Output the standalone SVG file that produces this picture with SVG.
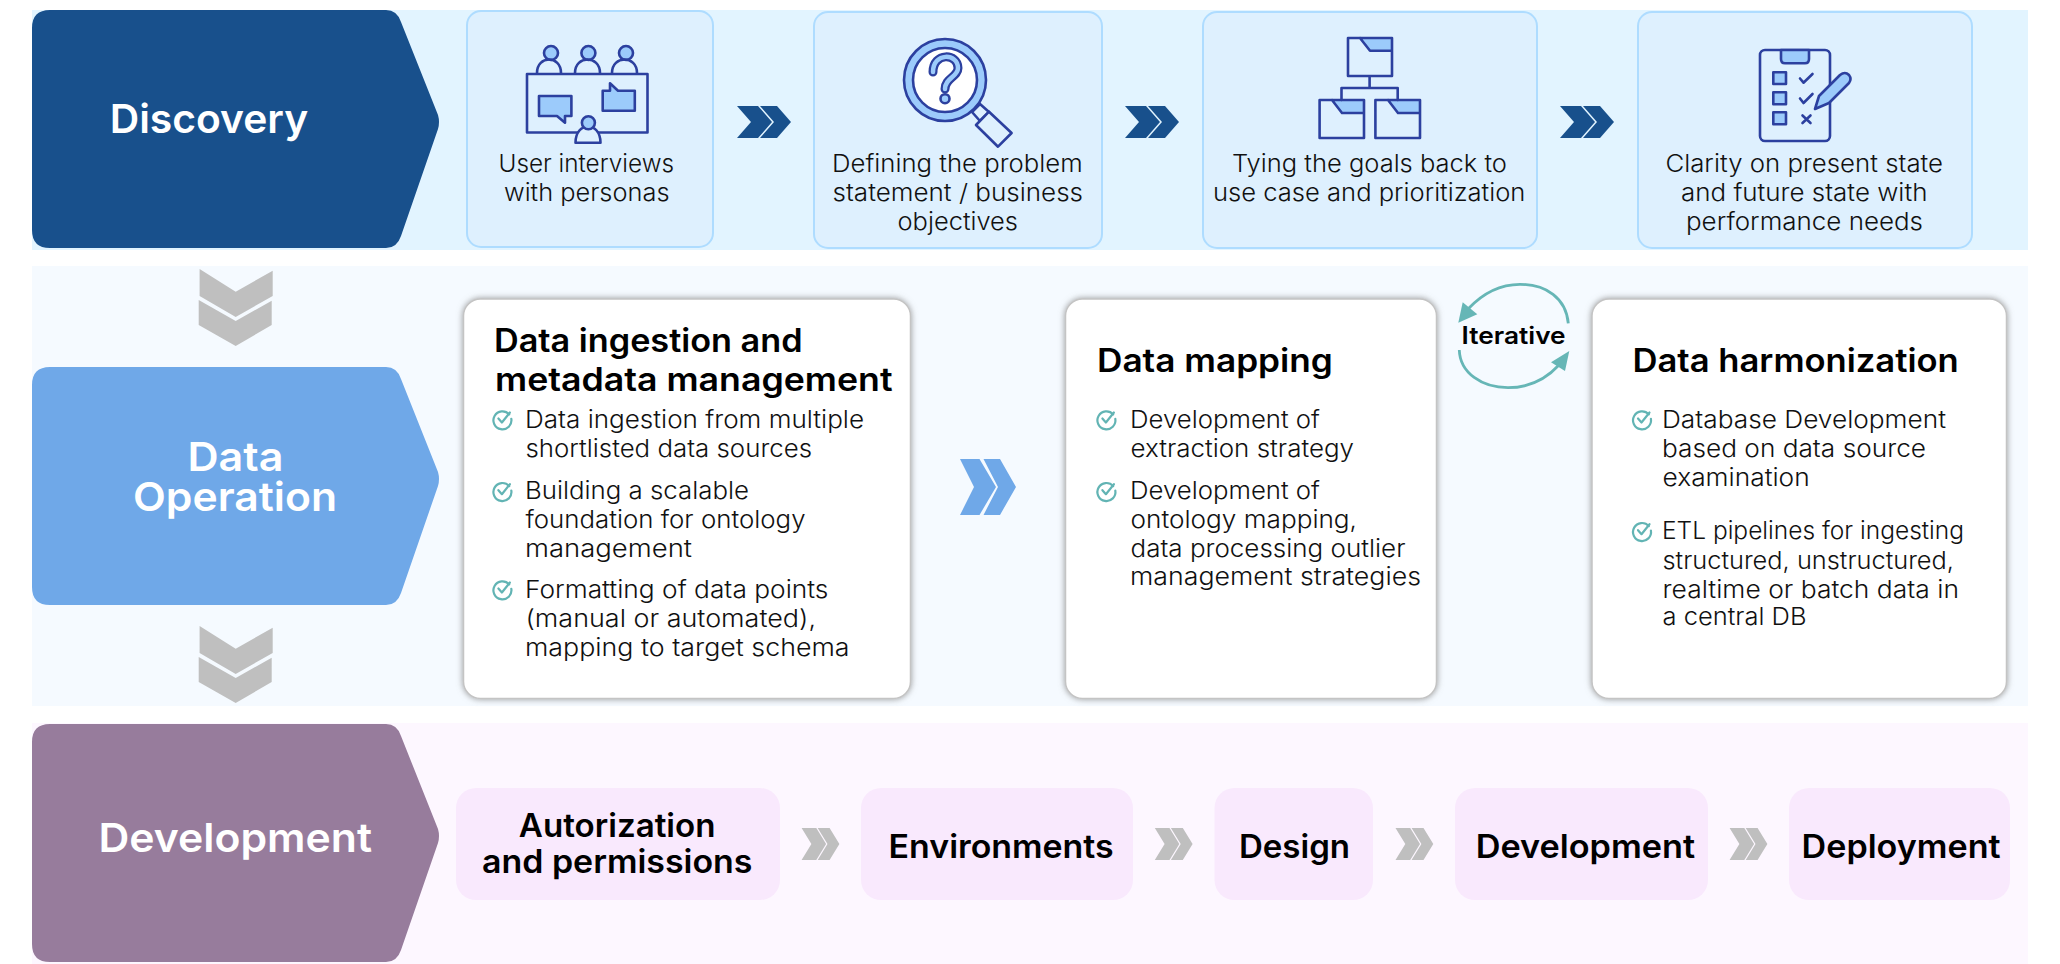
<svg xmlns="http://www.w3.org/2000/svg" xmlns:xlink="http://www.w3.org/1999/xlink" width="2060" height="964" viewBox="0 0 2060 964">
<style>
text{font-family:"Inter","Liberation Sans",sans-serif;fill:#111;}
.stage{font-size:40px;font-weight:600;fill:#fff;}
.body{font-size:24px;font-weight:300;}
.title{font-size:32px;font-weight:600;fill:#000;}
.pilltext{font-size:32px;font-weight:600;fill:#000;}
.it{font-size:24px;font-weight:600;fill:#000;}
.dcard{fill:#DEF0FE;stroke:#AEDCFF;stroke-width:2;}
.wcard{fill:#fff;stroke:#C4C4C4;stroke-width:1.5;filter:url(#sh);}
.pill{fill:#F9E9FD;}
.ic{stroke:#2C409F;stroke-width:2.6;fill:none;stroke-linejoin:round;stroke-linecap:round;}
.if{fill:#9CCBFB;}
.iw{fill:#fff;}
.chk{fill:none;stroke:#62B4B4;stroke-width:2.2;stroke-linecap:round;stroke-linejoin:round;}
.arc{fill:none;stroke:#66B6B6;stroke-width:2.8;}
.arh{fill:#66B6B6;}
</style>
<defs>
<filter id="sh" x="-5%" y="-5%" width="110%" height="110%"><feDropShadow dx="0" dy="0" stdDeviation="3" flood-color="#777" flood-opacity="0.75"/></filter>
<g id="dch"><polygon points="0,0 21,0 35,16 21,32 0,32 14,16"/><polygon points="23,0 40,0 54,16 40,32 23,32 37,16"/></g>
<g id="dn"><polygon points="0.9,0 37,22.7 74,1.7 74,27 37,48 0.9,27"/><polygon points="0,31 37,52 73,31.7 73,56 37,77 0,56"/></g>
<g id="ok"><path class="chk" d="M6.8,-5.6 A9 9 0 1 0 8.9,-1.2"/><path class="chk" d="M-4,-1.5 L-0.5,2.5 L7.5,-7.5"/></g>
</defs>

<g id="bands">
<rect x="32" y="10" width="1996" height="240" fill="#E2F4FF"/>
<rect x="32" y="266" width="1996" height="440" fill="#F5FAFF"/>
<rect x="32" y="723" width="1996" height="241" fill="#FDF7FF"/>
</g>

<g id="stage-discovery">
<path d="M50,10 H386 Q397,10 401,22 L438,115 Q440,122 438,129 L401,236 Q397,248 386,248 H50 Q32,248 32,230 V28 Q32,10 50,10 Z" fill="#18508C"/>
<text class="stage" x="109.700" y="133" textLength="198.500" lengthAdjust="spacingAndGlyphs">Discovery</text>
</g>
<g id="stage-data-operation">
<path d="M50,367 H386 Q397,367 401,379 L438,472 Q440,479 438,486 L401,593 Q397,605 386,605 H50 Q32,605 32,587 V385 Q32,367 50,367 Z" fill="#6FA8E8"/>
<text class="stage"><tspan x="187.500" y="471" textLength="96" lengthAdjust="spacingAndGlyphs">Data</tspan><tspan x="133" y="511" textLength="204" lengthAdjust="spacingAndGlyphs">Operation</tspan></text>
</g>
<g id="stage-development">
<path d="M50,724 H386 Q397,724 401,736 L438,829 Q440,836 438,843 L401,950 Q397,962 386,962 H50 Q32,962 32,944 V742 Q32,724 50,724 Z" fill="#977C9C"/>
<text class="stage" x="98.500" y="852" textLength="273.500" lengthAdjust="spacingAndGlyphs">Development</text>
</g>

<g id="card-interviews">
<rect class="dcard" x="467" y="11" width="246" height="236" rx="14"/>
<g>
<circle class="ic if" cx="551" cy="53" r="7"/><circle class="ic if" cx="588.4" cy="53" r="7"/><circle class="ic if" cx="626" cy="53" r="7"/>
<path class="ic" d="M537,73 C537,55 561,55 561,73 M575,73 C575,55 600,55 600,73 M612,73 C612,55 637,55 637,73"/>
<rect class="ic" x="527" y="74" width="120.500" height="58.500"/>
<path class="ic if" d="M539,96 H571.400 V116 H565 V122.700 L557,116 H539 Z"/>
<path class="ic if" d="M602.700,90.700 H610 V83.300 L618,90.700 H634.800 V110.700 H602.700 Z"/>
<path class="ic iw" style="fill:#DEF0FE" d="M575.500,142.700 C575.500,121 600.500,121 600.500,142.700 Z"/>
<circle class="ic if" cx="588.400" cy="122.700" r="6.500"/>
</g>
<text class="body" x="498.500" y="172" textLength="175.500" lengthAdjust="spacingAndGlyphs">User interviews</text>
<text class="body" x="504" y="200.700" textLength="165.500" lengthAdjust="spacingAndGlyphs">with personas</text>
</g>

<g id="card-problem">
<rect class="dcard" x="814" y="12" width="288" height="236" rx="14"/>
<g>
<path class="ic iw" style="fill:#DEF0FE" d="M972,112 L980,104 L989,112 L980,121 Z"/>
<path class="ic iw" style="fill:#DEF0FE" d="M989,111.700 L1011.600,133 L998,146.700 L976,125 Z"/>
<circle class="ic if" cx="945" cy="80" r="41"/>
<circle class="ic iw" cx="945" cy="80" r="32"/>
<path d="M933,72 C933,52 958,53 958,68 C958,77 945,78 945,89" fill="none" stroke="#2C409F" stroke-width="9" stroke-linecap="round"/>
<path d="M933,72 C933,52 958,53 958,68 C958,77 945,78 945,89" fill="none" stroke="#9CCBFB" stroke-width="4.500" stroke-linecap="round"/>
<circle class="ic if" cx="945" cy="98.700" r="4.500"/>
</g>
<text class="body" x="832" y="172" textLength="250.600" lengthAdjust="spacingAndGlyphs">Defining the problem</text>
<text class="body" x="832.500" y="200.700" textLength="250.500" lengthAdjust="spacingAndGlyphs">statement / business</text>
<text class="body" x="897.500" y="230" textLength="120.500" lengthAdjust="spacingAndGlyphs">objectives</text>
</g>

<g id="card-goals">
<rect class="dcard" x="1203" y="12" width="334" height="236" rx="14"/>
<g>
<path class="if" d="M1360,38 H1392 V50.700 H1370 Z"/>
<path class="if" d="M1332,100 H1364 V113 H1342 Z"/>
<path class="if" d="M1388,100 H1420 V113 H1398 Z"/>
<path class="ic" d="M1348,38 H1392 V76 H1348 Z M1360,38 L1370,50.700 H1392 M1369.600,76 V88 M1341.500,100 V88 H1397.700 V100"/>
<path class="ic" d="M1319.600,100 H1364 V138 H1319.600 Z M1332,100 L1342,113 H1364"/>
<path class="ic" d="M1375.400,100 H1420 V138 H1375.400 Z M1388,100 L1398,113 H1420"/>
</g>
<text class="body" x="1232" y="172" textLength="275" lengthAdjust="spacingAndGlyphs">Tying the goals back to</text>
<text class="body" x="1213" y="200.700" textLength="312.400" lengthAdjust="spacingAndGlyphs">use case and prioritization</text>
</g>

<g id="card-clarity">
<rect class="dcard" x="1638" y="12" width="334" height="236" rx="14"/>
<g>
<rect class="ic" x="1760" y="50" width="70" height="91" rx="5"/>
<path class="ic if" d="M1781,50 H1809 V59 Q1809,63.300 1805,63.300 H1785 Q1781,63.300 1781,59 Z"/>
<rect class="ic if" x="1773.300" y="72.300" width="12.700" height="11.700"/>
<rect class="ic if" x="1773.300" y="92.300" width="12.700" height="12"/>
<rect class="ic if" x="1773.300" y="112.300" width="12.700" height="12"/>
<path class="ic" d="M1800,78.500 L1803.500,82.700 L1812.500,74 M1800,98.500 L1803.500,103 L1812.500,94 M1802.500,115.500 L1810.500,123 M1810.500,115.500 L1802.500,123"/>
<path class="ic if" d="M1815,109 L1819,96 L1840,75 Q1845,71 1849,75 Q1852,79 1849,83 L1829,103 Z"/>
</g>
<text class="body" x="1665.400" y="172" textLength="277.600" lengthAdjust="spacingAndGlyphs">Clarity on present state</text>
<text class="body" x="1681" y="200.700" textLength="246.400" lengthAdjust="spacingAndGlyphs">and future state with</text>
<text class="body" x="1686" y="230" textLength="237" lengthAdjust="spacingAndGlyphs">performance needs</text>
</g>

<g id="card-ingestion">
<rect class="wcard" x="463.500" y="299" width="447" height="399.500" rx="17"/>
<text class="title" x="494" y="352" textLength="308.500" lengthAdjust="spacingAndGlyphs">Data ingestion and</text>
<text class="title" x="495" y="391" textLength="397.500" lengthAdjust="spacingAndGlyphs">metadata management</text>
<use xlink:href="#ok" href="#ok" x="502.400" y="420"/>
<text class="body" x="525" y="427.700" textLength="339" lengthAdjust="spacingAndGlyphs">Data ingestion from multiple</text>
<text class="body" x="525.500" y="456.700" textLength="286.500" lengthAdjust="spacingAndGlyphs">shortlisted data sources</text>
<use xlink:href="#ok" href="#ok" x="502.400" y="491.700"/>
<text class="body" x="525" y="499" textLength="224" lengthAdjust="spacingAndGlyphs">Building a scalable</text>
<text class="body" x="525.500" y="528" textLength="280" lengthAdjust="spacingAndGlyphs">foundation for ontology</text>
<text class="body" x="525" y="556.700" textLength="167" lengthAdjust="spacingAndGlyphs">management</text>
<use xlink:href="#ok" href="#ok" x="502.400" y="590"/>
<text class="body" x="525" y="598.300" textLength="303.400" lengthAdjust="spacingAndGlyphs">Formatting of data points</text>
<text class="body" x="525.500" y="627" textLength="290.500" lengthAdjust="spacingAndGlyphs">(manual or automated),</text>
<text class="body" x="525" y="656" textLength="324.500" lengthAdjust="spacingAndGlyphs">mapping to target schema</text>
</g>

<g id="card-mapping">
<rect class="wcard" x="1065.500" y="299" width="371" height="399.500" rx="17"/>
<text class="title" x="1097" y="372" textLength="235.800" lengthAdjust="spacingAndGlyphs">Data mapping</text>
<use xlink:href="#ok" href="#ok" x="1106.400" y="420"/>
<text class="body" x="1130" y="427.700" textLength="190" lengthAdjust="spacingAndGlyphs">Development of</text>
<text class="body" x="1130.500" y="456.700" textLength="223.500" lengthAdjust="spacingAndGlyphs">extraction strategy</text>
<use xlink:href="#ok" href="#ok" x="1106.400" y="491.700"/>
<text class="body" x="1130" y="499" textLength="190" lengthAdjust="spacingAndGlyphs">Development of</text>
<text class="body" x="1130.500" y="527.700" textLength="226.500" lengthAdjust="spacingAndGlyphs">ontology mapping,</text>
<text class="body" x="1130.500" y="556.700" textLength="275" lengthAdjust="spacingAndGlyphs">data processing outlier</text>
<text class="body" x="1130" y="585" textLength="291" lengthAdjust="spacingAndGlyphs">management strategies</text>
</g>

<g id="card-harmonization">
<rect class="wcard" x="1592" y="299" width="414.500" height="399.500" rx="17"/>
<text class="title" x="1632.500" y="372" textLength="326.200" lengthAdjust="spacingAndGlyphs">Data harmonization</text>
<use xlink:href="#ok" href="#ok" x="1642" y="420"/>
<text class="body" x="1662" y="427.700" textLength="284" lengthAdjust="spacingAndGlyphs">Database Development</text>
<text class="body" x="1662" y="456.700" textLength="264" lengthAdjust="spacingAndGlyphs">based on data source</text>
<text class="body" x="1662.500" y="485.700" textLength="147.200" lengthAdjust="spacingAndGlyphs">examination</text>
<use xlink:href="#ok" href="#ok" x="1642" y="531.700"/>
<text class="body" x="1662" y="539" textLength="302" lengthAdjust="spacingAndGlyphs">ETL pipelines for ingesting</text>
<text class="body" x="1662.500" y="568.500" textLength="291.500" lengthAdjust="spacingAndGlyphs">structured, unstructured,</text>
<text class="body" x="1662.500" y="597.500" textLength="296.500" lengthAdjust="spacingAndGlyphs">realtime or batch data in</text>
<text class="body" x="1662.500" y="625" textLength="144" lengthAdjust="spacingAndGlyphs">a central DB</text>
</g>

<g id="pill-autorization">
<rect class="pill" x="456" y="788" width="324" height="112" rx="20"/>
<text class="pilltext" x="518.800" y="837" textLength="196.700" lengthAdjust="spacingAndGlyphs">Autorization</text>
<text class="pilltext" x="482" y="872.500" textLength="270.500" lengthAdjust="spacingAndGlyphs">and permissions</text>
</g>
<g id="pill-environments">
<rect class="pill" x="861" y="788" width="272" height="112" rx="20"/>
<text class="pilltext" x="888.600" y="858" textLength="225" lengthAdjust="spacingAndGlyphs">Environments</text>
</g>
<g id="pill-design">
<rect class="pill" x="1214.500" y="788" width="158.500" height="112" rx="20"/>
<text class="pilltext" x="1239" y="858" textLength="111" lengthAdjust="spacingAndGlyphs">Design</text>
</g>
<g id="pill-development">
<rect class="pill" x="1455" y="788" width="253" height="112" rx="20"/>
<text class="pilltext" x="1475.700" y="858" textLength="219.300" lengthAdjust="spacingAndGlyphs">Development</text>
</g>
<g id="pill-deployment">
<rect class="pill" x="1789" y="788" width="221" height="112" rx="20"/>
<text class="pilltext" x="1801.600" y="858" textLength="199" lengthAdjust="spacingAndGlyphs">Deployment</text>
</g>

<g id="connectors">
<g fill="#18508C">
<use xlink:href="#dch" href="#dch" transform="translate(737,106)"/>
<use xlink:href="#dch" href="#dch" transform="translate(1125,106)"/>
<use xlink:href="#dch" href="#dch" transform="translate(1560,106)"/>
</g>
<g fill="#6FA8E8">
<polygon points="960,459 979.500,459 996,487 979.500,515 960,515 974,487"/>
<polygon points="983.500,459 1000,459 1016,487 1000,515 983.500,515 998,487"/>
</g>
<g fill="#BFBFBF">
<use xlink:href="#dn" href="#dn" transform="translate(198.700,269)"/>
<use xlink:href="#dn" href="#dn" transform="translate(198.700,626)"/>
<use xlink:href="#dch" href="#dch" transform="translate(801.600,828) scale(0.7,1)"/>
<use xlink:href="#dch" href="#dch" transform="translate(1154.800,828) scale(0.7,1)"/>
<use xlink:href="#dch" href="#dch" transform="translate(1395.500,828) scale(0.7,1)"/>
<use xlink:href="#dch" href="#dch" transform="translate(1729.600,828) scale(0.7,1)"/>
</g>
<path class="arc" d="M1568.300,323.300 C1566,298 1546,284.300 1520,284.300 C1500,284.300 1482,294 1468,309"/>
<polygon class="arh" points="1458.300,322.700 1462.700,302.300 1477.300,314.300"/>
<path class="arc" d="M1459.300,350 C1460,373 1482,387.700 1508,387.700 C1530,387.700 1547,378 1559,365"/>
<polygon class="arh" points="1569.300,351 1551,362.300 1565,371"/>
<text class="it" x="1461.600" y="344" textLength="104" lengthAdjust="spacingAndGlyphs">Iterative</text>
</g>
</svg>
